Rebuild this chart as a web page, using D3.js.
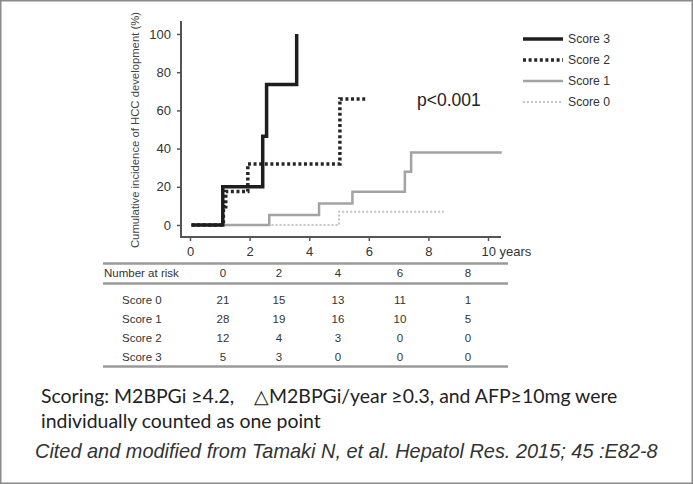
<!DOCTYPE html>
<html>
<head>
<meta charset="utf-8">
<script src="https://cdn.jsdelivr.net/npm/d3@7/dist/d3.min.js"></script>
<style>
  html, body { margin: 0; padding: 0; background: #fff; }
  svg { display: block; }
  text { white-space: pre; }
</style>
</head>
<body>
<script>
// ---------------- DATA ----------------
const seriesNames = ["Score 3", "Score 2", "Score 1", "Score 0"];
// step curves: event times (years) and cumulative incidence (%)
const score3Times = [0.05, 1.1, 2.44, 2.57, 3.58];
const score3Values = [0, 20, 46.5, 73.5, 100];
const score2Times = [0.05, 1.12, 1.2, 1.94, 5.03, 5.9];
const score2Values = [0, 9.5, 17.5, 32, 66, 66];
const score1Times = [0.05, 2.66, 4.33, 5.45, 7.21, 7.42, 10.46];
const score1Values = [0, 5.3, 11.3, 17.4, 27.9, 37.9, 37.9];
const score0Times = [0.05, 5.0, 8.52];
const score0Values = [0, 7, 7];

const xTicks = [0, 2, 4, 6, 8, 10];
const yTicks = [0, 20, 40, 60, 80, 100];
const yLabel = "Cumulative incidence of HCC development (%)";
const pText = "p<0.001";

// Number at risk table
const riskHeader = "Number at risk";
const riskColumns = [0, 2, 4, 6, 8];
const riskRows = ["Score 0", "Score 1", "Score 2", "Score 3"];
const riskScore0 = [21, 15, 13, 11, 1];
const riskScore1 = [28, 19, 16, 10, 5];
const riskScore2 = [12, 4, 3, 0, 0];
const riskScore3 = [5, 3, 0, 0, 0];

const noteLine1 = "Scoring: M2BPGi \u22654.2,    \u25B3M2BPGi/year \u22650.3, and AFP\u226510mg were";
const noteLine2 = "individually counted as one point";
const citeLine = "Cited and modified from Tamaki N, et al. Hepatol Res. 2015; 45 :E82-8";

// ---------------- DRAW ----------------
const W = 693, H = 484;
const svg = d3.select("body").append("svg").attr("width", W).attr("height", H);
const FONT = "'Liberation Sans', Arial, sans-serif";

// outer border
svg.append("rect").attr("x", 0.75).attr("y", 0.75).attr("width", W - 1.5).attr("height", H - 1.5)
  .attr("fill", "#fff").attr("stroke", "#8a8a8a").attr("stroke-width", 1.5);

const x = d3.scaleLinear().domain([0, 10]).range([190, 488]);
const y = d3.scaleLinear().domain([0, 100]).range([225, 34]);

const axisColor = "#555";
const axisX0 = 181, axisY0 = 237;

// axis lines
svg.append("line").attr("x1", axisX0).attr("x2", axisX0).attr("y1", 21).attr("y2", axisY0 + 1)
  .attr("stroke", axisColor).attr("stroke-width", 2);
svg.append("line").attr("x1", axisX0 - 1).attr("x2", 501).attr("y1", axisY0).attr("y2", axisY0)
  .attr("stroke", axisColor).attr("stroke-width", 2);

// y axis
const gy = svg.append("g").attr("transform", `translate(${axisX0},0)`)
  .call(d3.axisLeft(y).tickValues(yTicks).tickSize(4).tickPadding(6).tickSizeOuter(0));
gy.select(".domain").remove();
gy.selectAll(".tick line").attr("stroke", axisColor).attr("stroke-width", 1.5);
gy.selectAll(".tick text").attr("font-family", FONT).attr("font-size", 13).attr("fill", "#333");

// x axis
const gx = svg.append("g").attr("transform", `translate(0,${axisY0})`)
  .call(d3.axisBottom(x).tickValues(xTicks).tickSize(4).tickPadding(6).tickSizeOuter(0)
    .tickFormat(d => d === 10 ? "10 years" : d));
gx.select(".domain").remove();
gx.selectAll(".tick line").attr("stroke", axisColor).attr("stroke-width", 1.5);
gx.selectAll(".tick text").attr("font-family", FONT).attr("font-size", 13).attr("fill", "#333");
gx.selectAll(".tick text").filter(d => d === 10).attr("text-anchor", "start").attr("x", -7);

// y label
svg.append("text").attr("transform", `translate(139,130) rotate(-90)`)
  .attr("text-anchor", "middle").attr("font-family", FONT).attr("font-size", 11.3)
  .attr("fill", "#444").text(yLabel);

// curves
const styles = {
  "Score 3": { color: "#1e1e1e", width: 3.5, dash: null },
  "Score 2": { color: "#262626", width: 3.5, dash: "3,2.6" },
  "Score 1": { color: "#a3a3a3", width: 2.5, dash: null },
  "Score 0": { color: "#c4c4c4", width: 2, dash: "2,2" }
};
const curveData = {
  "Score 3": score3Times.map((t, i) => [t, score3Values[i]]),
  "Score 2": score2Times.map((t, i) => [t, score2Values[i]]),
  "Score 1": score1Times.map((t, i) => [t, score1Values[i]]),
  "Score 0": score0Times.map((t, i) => [t, score0Values[i]])
};
const line = d3.line().x(d => x(d[0])).y(d => y(d[1])).curve(d3.curveStepAfter);
["Score 0", "Score 1", "Score 2", "Score 3"].forEach(name => {
  const s = styles[name];
  svg.append("path").attr("d", line(curveData[name])).attr("fill", "none")
    .attr("stroke", s.color).attr("stroke-width", s.width)
    .attr("stroke-dasharray", s.dash).attr("stroke-linejoin", "miter");
});

// legend
const legY = d3.scalePoint().domain(seriesNames).range([39, 102]);
seriesNames.forEach(name => {
  const s = styles[name];
  const yy = legY(name);
  svg.append("line").attr("x1", 523).attr("x2", 563).attr("y1", yy).attr("y2", yy)
    .attr("stroke", s.color).attr("stroke-width", s.width).attr("stroke-dasharray", s.dash);
  svg.append("text").attr("x", 568).attr("y", yy + 4.3).attr("font-family", FONT)
    .attr("font-size", 12.2).attr("fill", "#333").text(name);
});

// p value
svg.append("text").attr("x", 417).attr("y", 106).attr("font-family", FONT)
  .attr("font-size", 17.5).attr("fill", "#222").text(pText);

// risk table
const tableColor = "#9a9a9a";
[263.5, 283.5, 366.5].forEach(yy => {
  svg.append("line").attr("x1", 103).attr("x2", 508).attr("y1", yy).attr("y2", yy)
    .attr("stroke", tableColor).attr("stroke-width", 2.5);
});
const colX = d3.scaleLinear().domain(riskColumns).range([223, 279, 338, 400, 468]);
const TCOL = "#333";
svg.append("text").attr("x", 104).attr("y", 277).attr("font-family", FONT)
  .attr("font-size", 11.5).attr("fill", TCOL).text(riskHeader);
riskColumns.forEach(c => {
  svg.append("text").attr("x", colX(c)).attr("y", 277).attr("text-anchor", "middle")
    .attr("font-family", FONT).attr("font-size", 11.5).attr("fill", TCOL).text(String(c));
});
const rowY = d3.scalePoint().domain(riskRows).range([303.5, 361]);
const riskData = [riskScore0, riskScore1, riskScore2, riskScore3];
riskRows.forEach((r, i) => {
  svg.append("text").attr("x", 122).attr("y", rowY(r)).attr("font-family", FONT)
    .attr("font-size", 11.5).attr("fill", TCOL).text(r);
  riskData[i].forEach((v, j) => {
    svg.append("text").attr("x", colX(riskColumns[j])).attr("y", rowY(r)).attr("text-anchor", "middle")
      .attr("font-family", FONT).attr("font-size", 11.5).attr("fill", TCOL).text(String(v));
  });
});

// notes
const NOTEFONT = "Lato, 'Open Sans', sans-serif";
const n1 = svg.append("text").attr("x", 41).attr("y", 403).attr("font-family", NOTEFONT)
  .attr("font-size", 18).attr("fill", "#222").text(noteLine1);
const natural = n1.node().getComputedTextLength();
const fs = 18 * 577 / natural;
n1.attr("font-size", fs);
svg.append("text").attr("x", 41).attr("y", 428).attr("font-family", NOTEFONT)
  .attr("font-size", fs).attr("fill", "#222").text(noteLine2);

const c1 = svg.append("text").attr("x", 35).attr("y", 458).attr("font-family", FONT)
  .attr("font-style", "italic").attr("font-size", 18).attr("fill", "#333").text(citeLine);
const nat2 = c1.node().getComputedTextLength();
c1.attr("font-size", 18 * 623 / nat2);
</script>
</body>
</html>
